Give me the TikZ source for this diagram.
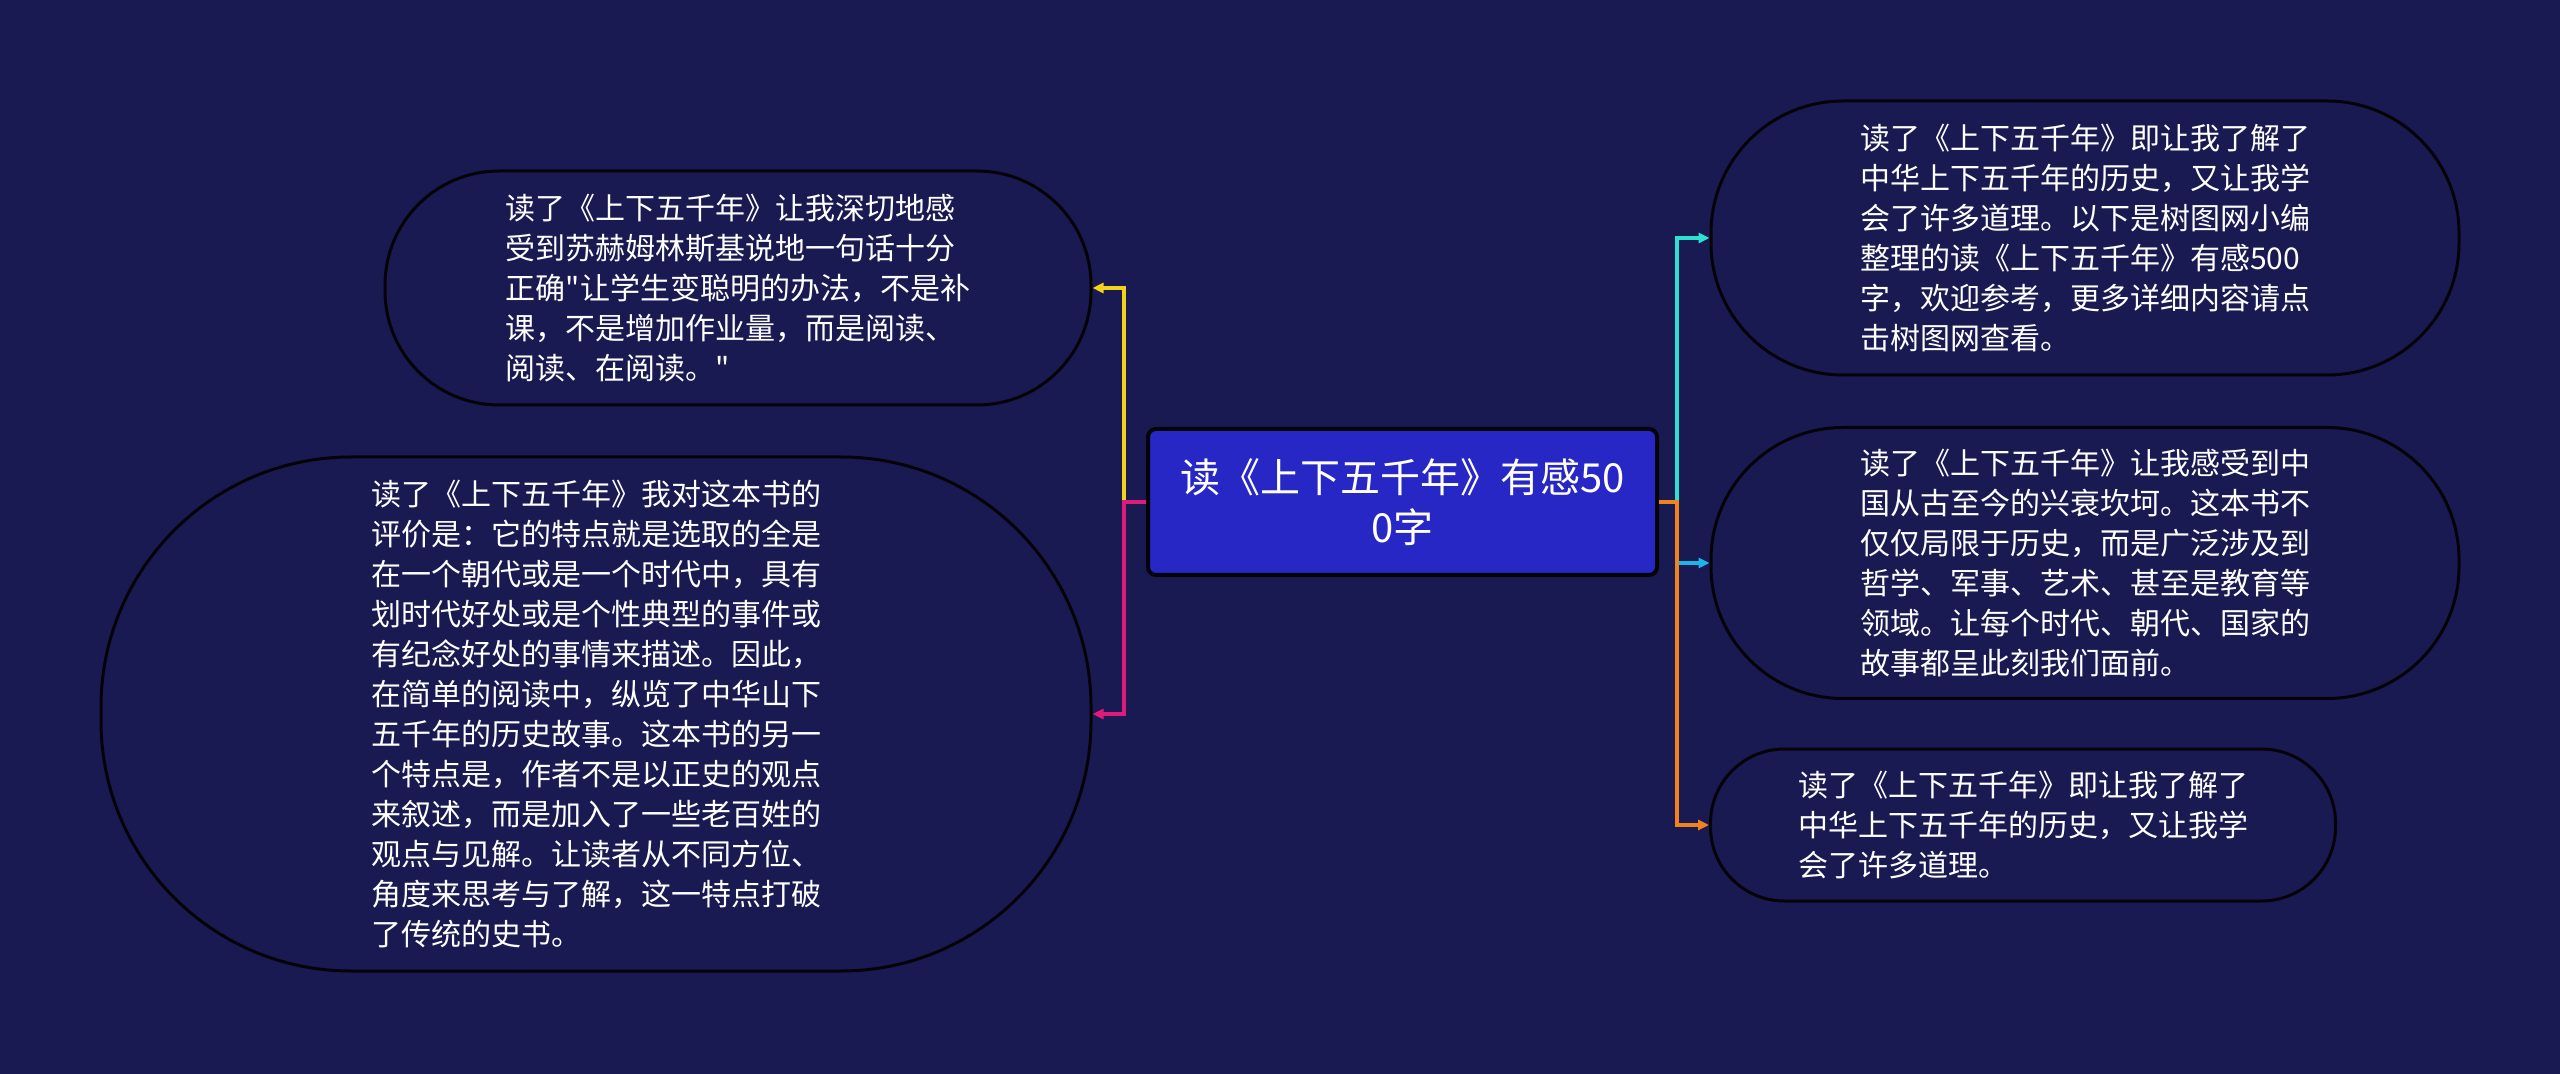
\documentclass[tikz,border=0pt]{standalone}
\usepackage{fontspec}
\setmainfont{Noto Sans CJK SC}
\usetikzlibrary{arrows.meta}
\definecolor{bgc}{HTML}{1A1A52}
\definecolor{cfill}{HTML}{2727C6}
\definecolor{cyel}{HTML}{F2D21B}
\definecolor{cmag}{HTML}{E0197D}
\definecolor{cteal}{HTML}{2EE0CF}
\definecolor{ccyan}{HTML}{1EB4E6}
\definecolor{corange}{HTML}{F08220}
\tikzset{
  leaf/.style={draw=black!90!bgc, line width=1.5pt, fill=bgc, text=white,
    align=left, inner sep=0pt, font=\fontsize{15pt}{20pt}\selectfont},
  rootbox/.style={draw=black!90!bgc, line width=2pt, fill=cfill, text=white,
    align=center, rounded corners=4pt, inner sep=0pt,
    minimum width=254.5pt, minimum height=73pt,
    font=\fontsize{20pt}{25pt}\selectfont},
  conn/.style={line width=1.7pt, -{Triangle[length=5.5pt,width=5pt]}}
}
\begin{document}
\begin{tikzpicture}[x=0.5pt,y=-0.5pt]
\fill[bgc] (0,0) rectangle (2560,1074);
\useasboundingbox (0,0) rectangle (2560,1074);

\node[rootbox] (c) at (1402.5,502) {读《上下五千年》有感50\\0字};

\node[leaf, minimum width=353pt, minimum height=117pt, rounded corners=57pt] (tl) at (738,288)
{读了《上下五千年》让我深切地感\\受到苏赫姆林斯基说地一句话十分\\正确\textquotedbl 让学生变聪明的办法，不是补\\课，不是增加作业量，而是阅读、\\阅读、在阅读。\textquotedbl};

\node[leaf, minimum width=495pt, minimum height=257pt, rounded corners=125pt] (bl) at (596,714)
{读了《上下五千年》我对这本书的\\评价是：它的特点就是选取的全是\\在一个朝代或是一个时代中，具有\\划时代好处或是个性典型的事件或\\有纪念好处的事情来描述。因此，\\在简单的阅读中，纵览了中华山下\\五千年的历史故事。这本书的另一\\个特点是，作者不是以正史的观点\\来叙述，而是加入了一些老百姓的\\观点与见解。让读者从不同方位、\\角度来思考与了解，这一特点打破\\了传统的史书。};

\node[leaf, minimum width=374pt, minimum height=137pt, rounded corners=66pt] (rt) at (2085,238)
{读了《上下五千年》即让我了解了\\中华上下五千年的历史，又让我学\\会了许多道理。以下是树图网小编\\整理的读《上下五千年》有感500\\字，欢迎参考，更多详细内容请点\\击树图网查看。};

\node[leaf, minimum width=374pt, minimum height=135.5pt, rounded corners=66pt] (rm) at (2085,563)
{读了《上下五千年》让我感受到中\\国从古至今的兴衰坎坷。这本书不\\仅仅局限于历史，而是广泛涉及到\\哲学、军事、艺术、甚至是教育等\\领域。让每个时代、朝代、国家的\\故事都呈此刻我们面前。};

\node[leaf, minimum width=312.5pt, minimum height=76pt, rounded corners=37pt] (rb) at (2023,825)
{读了《上下五千年》即让我了解了\\中华上下五千年的历史，又让我学\\会了许多道理。};

\coordinate (lj) at (1124,502);
\coordinate (rj) at (1677,502);

\draw[conn, cyel] (c.west) -- (lj) |- (tl.east);
\draw[conn, cmag] (c.west) -- (lj) |- (bl.east);
\draw[conn, cteal] (c.east) -- (rj) |- (rt.west);
\draw[conn, ccyan] (c.east) -- (rj) |- (rm.west);
\draw[conn, corange] (c.east) -- (rj) |- (rb.west);
\end{tikzpicture}
\end{document}
